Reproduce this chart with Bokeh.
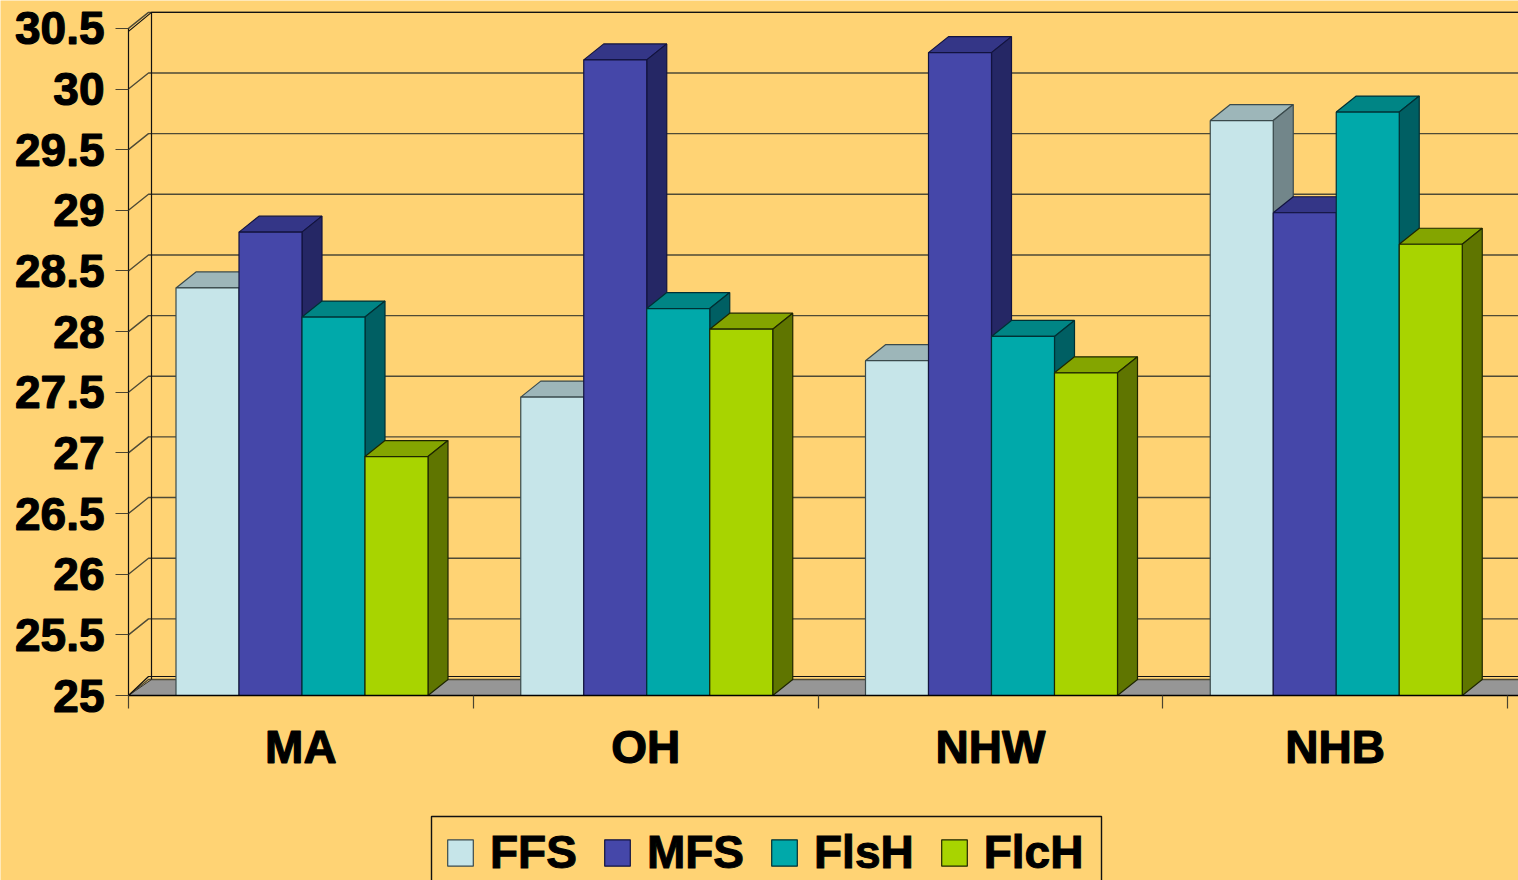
from bokeh.plotting import figure
from bokeh.models import (BoxAnnotation, ColumnDataSource, FixedTicker, Legend, LegendItem, Range1d)
from bokeh.embed import file_html
from bokeh.resources import INLINE

# ---- data ----
categories = ["MA", "OH", "NHW", "NHB"]
y_ticks = [25, 25.5, 26, 26.5, 27, 27.5, 28, 28.5, 29, 29.5, 30, 30.5]
y_labels = ["25", "25.5", "26", "26.5", "27", "27.5", "28", "28.5", "29", "29.5", "30", "30.5"]
FFS = [28.36, 27.46, 27.76, 29.74]
MFS = [28.82, 30.24, 30.30, 28.98]
FlsH = [28.12, 28.19, 27.96, 29.81]
FlcH = [26.97, 28.02, 27.66, 28.72]
series_names = ["FFS", "MFS", "FlsH", "FlcH"]
series_values = [FFS, MFS, FlsH, FlcH]

# ---- styles ----
BG = "#FFD374"
FLOOR = "#969696"
FRONT = ["#C6E5E9", "#4547A9", "#00A9AA", "#A8D400"]
TOP = ["#9DB6B9", "#343687", "#008585", "#84A500"]
SIDE = ["#72868A", "#252765", "#005F63", "#5F7500"]
EDGE = ["#3A4A4C", "#12133F", "#003034", "#1E2600"]
FONT = "Liberation Sans"
FS = "46px"

# ---- layout in scale units (1 x unit = one category, 344.75 px; 1 y unit = 121.3 px) ----
PX_X = 1 / 344.75
PX_Y = 1 / 121.3
BAR_W = 63 * PX_X
GROUP_OFFSET = 47.5 * PX_X
DEPTH_X = 20 * PX_X
DEPTH_Y = 16 * PX_Y
WALL_X = 23 * PX_X
BEND_X = 20 * PX_X
X_START = -128 * PX_X
X_END = (1518 - 128) * PX_X
BASE = y_ticks[0]
Y_START = BASE - 185 * PX_Y
Y_END = BASE + 695 * PX_Y

p = figure(width=1518, height=880, output_backend="svg", toolbar_location=None,
           x_range=Range1d(X_START, X_END), y_range=Range1d(Y_START, Y_END),
           min_border=0, background_fill_color=BG, border_fill_color=BG,
           outline_line_color=None)
p.grid.visible = False

# y axis, inside the frame
ya = p.yaxis[0]
ya.fixed_location = 0
ya.ticker = FixedTicker(ticks=y_ticks)
ya.major_label_overrides = dict(zip(y_ticks, y_labels))
ya.axis_line_color = None
ya.major_tick_in = 0
ya.major_tick_out = 13
ya.major_tick_line_color = "#4A4430"
ya.major_tick_line_width = 1.2
ya.minor_tick_line_color = None
ya.major_label_standoff = 11
ya.major_label_text_font = FONT
ya.major_label_text_font_style = "bold"
ya.major_label_text_font_size = FS
ya.major_label_text_color = "black"
ya.major_label_text_outline_color = "black"

# x axis, inside the frame
centers = [i + 0.5 for i in range(len(categories))]
xa = p.xaxis[0]
xa.fixed_location = BASE
xa.bounds = (0, X_END)
xa.ticker = FixedTicker(ticks=centers, minor_ticks=list(range(len(categories) + 1)))
xa.major_label_overrides = dict(zip(centers, categories))
xa.axis_line_color = "black"
xa.axis_line_width = 1.6
xa.major_tick_in = 0
xa.major_tick_out = 0
xa.minor_tick_in = 0
xa.minor_tick_out = 13
xa.minor_tick_line_color = "#4A4430"
xa.minor_tick_line_width = 1.2
xa.major_label_standoff = 12
xa.major_label_text_font = FONT
xa.major_label_text_font_style = "bold"
xa.major_label_text_font_size = FS
xa.major_label_text_color = "black"
xa.major_label_text_outline_color = "black"

# floor
p.patches(xs=[[0, WALL_X, X_END + WALL_X, X_END]],
          ys=[[BASE, BASE + DEPTH_Y, BASE + DEPTH_Y, BASE]],
          fill_color=FLOOR, line_color="#2A2A2A", line_width=1)

# back wall: each gridline leaves the left tick, bends, runs along the back
grid_xs = [[0, BEND_X, X_END] for _ in y_ticks]
grid_ys = [[v, v + DEPTH_Y, v + DEPTH_Y] for v in y_ticks]
p.multi_line(grid_xs, grid_ys, line_color="#4E4A36", line_width=1.4)
# wall verticals and the doubled lines at the top and the foot of the wall
top_v = y_ticks[-1]
p.multi_line(
    [[0, 0], [WALL_X, WALL_X], [0, WALL_X, X_END], [0, BEND_X, X_END]],
    [[BASE, top_v], [BASE + DEPTH_Y, top_v + DEPTH_Y],
     [top_v - 3 * PX_Y, top_v + DEPTH_Y, top_v + DEPTH_Y],
     [BASE, BASE + 19 * PX_Y, BASE + 19 * PX_Y]],
    line_color="#111111", line_width=1.2)

# bars, left to right so that each one overlaps its left neighbour
items = []
for k, (name, values) in enumerate(zip(series_names, series_values)):
    lefts = [i + GROUP_OFFSET + k * BAR_W for i in range(len(values))]
    rights = [l + BAR_W for l in lefts]
    top_xs = [[l, l + DEPTH_X, r + DEPTH_X, r] for l, r in zip(lefts, rights)]
    top_ys = [[v, v + DEPTH_Y, v + DEPTH_Y, v] for v in values]
    side_xs = [[r, r + DEPTH_X, r + DEPTH_X, r] for r in rights]
    side_ys = [[v, v + DEPTH_Y, BASE + DEPTH_Y, BASE] for v in values]
    p.patches(top_xs, top_ys, fill_color=TOP[k], line_color=EDGE[k], line_width=1.2)
    p.patches(side_xs, side_ys, fill_color=SIDE[k], line_color=EDGE[k], line_width=1.2)
    src = ColumnDataSource(dict(left=lefts, right=rights, top=values, bottom=[BASE] * len(values)))
    r = p.quad(left="left", right="right", top="top", bottom="bottom", source=src,
               fill_color=FRONT[k], line_color=EDGE[k], line_width=1.2)
    items.append(LegendItem(label=name, renderers=[r]))

# legend frame, cut by the lower edge of the picture as in the reference
p.add_layout(BoxAnnotation(left=(431 - 128) * PX_X, right=(1101 - 128) * PX_X,
                           top=BASE - (816 - 695) * PX_Y, bottom=Y_START - 20 * PX_Y,
                           fill_color=BG, fill_alpha=1,
                           line_color="#111111", line_alpha=1, line_width=1.4))

legend = Legend(items=items, orientation="horizontal", location=(444, 1),
                background_fill_alpha=0, border_line_color=None,
                spacing=24, label_standoff=14,
                glyph_width=32, glyph_height=33,
                label_text_font=FONT, label_text_font_style="bold",
                label_text_font_size=FS, label_text_color="black",
                label_text_outline_color="black")
p.add_layout(legend, "center")

open("out.html", "w").write(file_html(p, INLINE))
